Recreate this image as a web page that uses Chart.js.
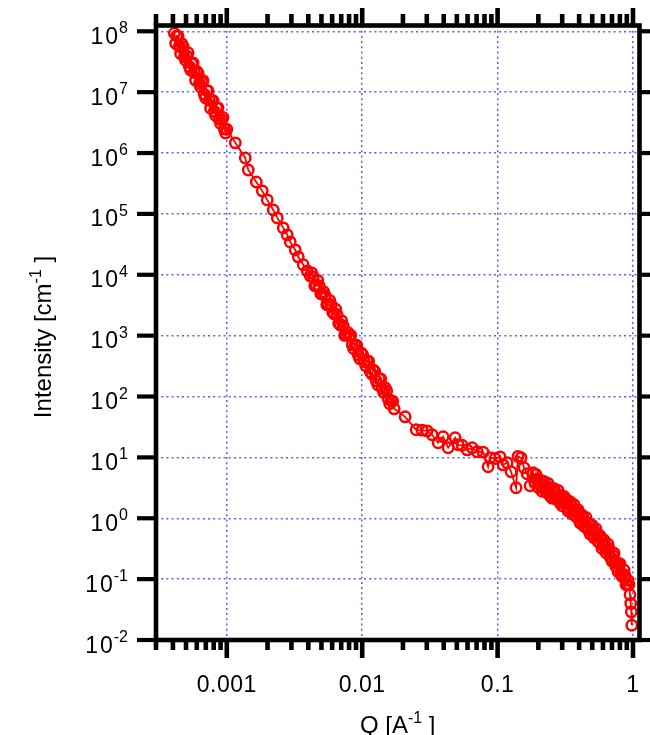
<!DOCTYPE html>
<html>
<head>
<meta charset="utf-8">
<script src="https://cdn.jsdelivr.net/npm/chart.js@4.4.1/dist/chart.umd.min.js"></script>
<style>
  html, body { margin: 0; padding: 0; background: #fff; }
</style>
</head>
<body>
<canvas id="chart" width="650" height="735"></canvas>
<script>
// Data
const qValues = [
  0.000410, 0.000419, 0.000428, 0.000437, 0.000446, 0.000456, 0.000466, 0.000476, 0.000486, 0.000496,
  0.000507, 0.000518, 0.000529, 0.000540, 0.000552, 0.000564, 0.000576, 0.000588, 0.000601, 0.000614,
  0.000627, 0.000640, 0.000654, 0.000668, 0.000682, 0.000697, 0.000712, 0.000727, 0.000743, 0.000759,
  0.000775, 0.000792, 0.000809, 0.000826, 0.000844, 0.000862, 0.000880, 0.000899, 0.000919, 0.000938,
  0.000958, 0.000979, 0.001000,
  0.001156, 0.001369, 0.001441, 0.001651, 0.001828, 0.001990, 0.002204, 0.002359, 0.002612, 0.002795,
  0.002941, 0.003202, 0.003371, 0.003670, 0.003928,
  0.004132, 0.004239, 0.004349, 0.004461, 0.004576, 0.004694, 0.004815, 0.004940, 0.005068, 0.005199,
  0.005333, 0.005471, 0.005612, 0.005757, 0.005905, 0.006058, 0.006214, 0.006374, 0.006539, 0.006707,
  0.006880, 0.007058, 0.007240, 0.007427, 0.007619, 0.007815, 0.008017, 0.008224, 0.008436, 0.008654,
  0.008877, 0.009107, 0.009343, 0.009584, 0.009831, 0.01009, 0.01035, 0.01062, 0.01089, 0.01117,
  0.01146, 0.01176, 0.01206, 0.01237, 0.01269, 0.01302, 0.01335, 0.01370, 0.01405, 0.01441,
  0.01478, 0.01517, 0.01556, 0.01596, 0.01637, 0.01679, 0.01723,
  0.02076, 0.02503, 0.02772, 0.03018, 0.03286, 0.03638, 0.03962, 0.04313, 0.04857, 0.05111,
  0.05470, 0.05956, 0.06484, 0.07060, 0.07816, 0.08510, 0.08803, 0.09583, 0.1043, 0.1098,
  0.1175, 0.1258, 0.1369, 0.1417, 0.1491, 0.1569, 0.1651, 0.1738, 0.1828,
  0.1891, 0.1923, 0.1957, 0.1990, 0.2024, 0.2059, 0.2094, 0.2130, 0.2167, 0.2204,
  0.2242, 0.2280, 0.2319, 0.2359, 0.2399, 0.2440, 0.2482, 0.2525, 0.2568, 0.2612,
  0.2657, 0.2702, 0.2749, 0.2796, 0.2844, 0.2893, 0.2942, 0.2992, 0.3044, 0.3096,
  0.3149, 0.3203, 0.3258, 0.3314, 0.3371, 0.3429, 0.3487, 0.3547, 0.3608, 0.3670,
  0.3733, 0.3797, 0.3862, 0.3928, 0.3995, 0.4063, 0.4133, 0.4204, 0.4276, 0.4349,
  0.4424, 0.4500, 0.4577, 0.4655, 0.4735, 0.4816, 0.4899, 0.4983, 0.5068, 0.5155,
  0.5243, 0.5333, 0.5425, 0.5518, 0.5612, 0.5708, 0.5806, 0.5906, 0.6007, 0.6110,
  0.6215, 0.6321, 0.6430, 0.6540, 0.6652, 0.6766, 0.6882, 0.7000, 0.7120, 0.7242,
  0.7366, 0.7492, 0.7621, 0.7752, 0.7884, 0.8019, 0.8157, 0.8297, 0.8439, 0.8584,
  0.8731, 0.8881, 0.9033, 0.9188, 0.9345,
  0.9505, 0.9620, 0.9720, 0.9800
];
const intensity = [
  9.3e7, 6.34e7, 8.41e7, 8.27e7, 5.64e7, 4.29e7, 6.25e7, 5.60e7, 3.81e7, 3.34e7,
  3.95e7, 4.45e7, 2.64e7, 2.31e7, 2.93e7, 3.01e7, 2.10e7, 1.57e7, 2.18e7, 2.04e7,
  1.39e7, 1.22e7, 1.44e7, 1.55e7, 9.20e6, 8.05e6, 1.07e7, 1.05e7, 7.31e6, 5.45e6,
  7.40e6, 7.27e6, 4.84e6, 4.14e6, 5.50e6, 5.52e6, 3.59e6, 3.07e6, 3.56e6, 3.83e6,
  2.49e6, 2.13e6, 2.46e6,
  1.47e6, 8.32e5, 5.27e5, 3.35e5, 2.39e5, 1.70e5, 1.16e5, 8.59e4, 5.89e4, 4.52e4,
  3.47e4, 2.56e4, 1.97e4, 1.46e4, 1.16e4,
  9590, 10760, 9250, 6590, 6820, 8100, 6580, 4870, 4850, 5250,
  4510, 3220, 3330, 3800, 3210, 2420, 2280, 2710, 2200, 1600,
  1500, 1750, 1450, 1010, 1030, 1130, 993, 1010, 706, 609,
  700, 694, 484, 420, 522, 485, 372, 320, 380, 379,
  255, 236, 274, 259, 181, 156, 195, 195, 134, 117,
  139, 124, 91.6, 76.1, 84.9, 83.5, 62.8,
  46.4, 28.4, 28.0, 27.3, 23.5, 17.4, 21.8, 14.4, 21.0, 16.1,
  15.8, 13.3, 14.4, 12.4, 12.2, 7.01, 9.84, 9.6, 10.2, 7.55,
  8.15, 5.80, 3.17, 10.4, 9.84, 6.75, 5.38, 3.42, 5.58,
  3.83, 5.22, 4.35, 3.23, 3.66, 4.26, 4.02, 2.78, 3.16, 4.01,
  3.35, 2.70, 2.73, 3.74, 3.25, 2.33, 2.75, 2.14, 2.42, 3.07,
  2.67, 2.06, 2.10, 2.87, 2.31, 1.79, 2.35, 1.61, 1.82, 2.28,
  1.76, 2.06, 1.85, 1.32, 1.43, 1.87, 1.67, 1.18, 1.33, 1.67,
  1.31, 1.06, 1.10, 1.38, 1.23, 0.841, 0.906, 1.13, 1.01, 0.740,
  0.860, 1.03, 0.733, 0.651, 0.815, 0.554, 0.642, 0.771, 0.544, 0.481,
  0.600, 0.668, 0.528, 0.417, 0.414, 0.516, 0.473, 0.320, 0.355, 0.440,
  0.360, 0.272, 0.303, 0.375, 0.319, 0.232, 0.228, 0.198, 0.244, 0.267,
  0.186, 0.162, 0.185, 0.133, 0.176, 0.179, 0.124, 0.111, 0.121, 0.141,
  0.114, 0.0807, 0.0831, 0.0955, 0.0818,
  0.0554, 0.0400, 0.0290, 0.0175
];

// Axes
const xMajorTicks = [0.001, 0.01, 0.1, 1];
const xTickLabels = ["0.001", "0.01", "0.1", "1"];
const xMinorTicks = [
  0.0003, 0.0004, 0.0005, 0.0006, 0.0007, 0.0008, 0.0009,
  0.002, 0.003, 0.004, 0.005, 0.006, 0.007, 0.008, 0.009,
  0.02, 0.03, 0.04, 0.05, 0.06, 0.07, 0.08, 0.09,
  0.2, 0.3, 0.4, 0.5, 0.6, 0.7, 0.8, 0.9
];
const yTicks = [1e-2, 1e-1, 1e0, 1e1, 1e2, 1e3, 1e4, 1e5, 1e6, 1e7, 1e8];
const yTickExponents = ["-2", "-1", "0", "1", "2", "3", "4", "5", "6", "7", "8"];
const xTitle = ["Q [A", "-1", " ]"];
const yTitle = ["Intensity [cm", "-1", " ]"];

const gridColor = "#5a5aff";
const font = "'Liberation Sans', Arial, Helvetica, sans-serif";

// draws frame, tick marks, labels and titles from the scales
const igorAxes = {
    id: "igorAxes",
    afterDraw(chart) {
        const {ctx, chartArea: a, scales} = chart;
        const x = scales.x, y = scales.y;
        ctx.save();
        ctx.strokeStyle = "#000";
        ctx.fillStyle = "#000";
        ctx.lineWidth = 4.6;
        ctx.lineCap = "butt";

        const line = (x0, y0, x1, y1) => {
            ctx.beginPath();
            ctx.moveTo(x0, y0);
            ctx.lineTo(x1, y1);
            ctx.stroke();
        };

        // frame
        ctx.strokeRect(a.left, a.top, a.right - a.left, a.bottom - a.top);

        // x ticks, bottom and top
        xMinorTicks.forEach(v => {
            let px = x.getPixelForValue(v);
            line(px, a.bottom, px, a.bottom + 10);
            line(px, a.top, px, a.top - 11.5);
        });
        xMajorTicks.forEach(v => {
            let px = x.getPixelForValue(v);
            line(px, a.bottom, px, a.bottom + 18);
            line(px, a.top, px, a.top - 17.5);
        });

        // y ticks, left and right
        ctx.lineWidth = 4.2;
        yTicks.forEach(v => {
            let py = y.getPixelForValue(v);
            line(a.left, py, a.left - 19, py);
            line(a.right, py, a.right + 10.5, py);
        });

        // x tick labels
        ctx.font = `23px ${font}`;
        ctx.textAlign = "center";
        ctx.textBaseline = "alphabetic";
        if ("letterSpacing" in ctx) ctx.letterSpacing = "0.5px";
        xMajorTicks.forEach((v, i) => {
            ctx.fillText(xTickLabels[i], x.getPixelForValue(v), 692);
        });

        // y tick labels: 10 with superscript exponent
        ctx.textAlign = "right";
        const labelRight = 128;
        yTicks.forEach((v, i) => {
            let py = y.getPixelForValue(v);
            ctx.font = `16px ${font}`;
            if ("letterSpacing" in ctx) ctx.letterSpacing = "0px";
            let supW = ctx.measureText(yTickExponents[i]).width;
            ctx.fillText(yTickExponents[i], labelRight, py + 2);
            ctx.font = `23px ${font}`;
            if ("letterSpacing" in ctx) ctx.letterSpacing = "2px";
            ctx.fillText("10", labelRight - supW + 1, py + 12.5);
        });
        if ("letterSpacing" in ctx) ctx.letterSpacing = "0px";

        // titles with superscript
        const drawTitle = (parts, cx, base) => {
            ctx.font = `24px ${font}`;
            let w0 = ctx.measureText(parts[0]).width;
            let w2 = ctx.measureText(parts[2]).width;
            ctx.font = `16px ${font}`;
            let w1 = ctx.measureText(parts[1]).width;
            let start = cx - (w0 + w1 + w2) / 2;
            ctx.textAlign = "left";
            ctx.font = `24px ${font}`;
            ctx.fillText(parts[0], start, base);
            ctx.fillText(parts[2], start + w0 + w1, base);
            ctx.font = `16px ${font}`;
            ctx.fillText(parts[1], start + w0, base - 10);
        };
        drawTitle(xTitle, (a.left + a.right) / 2, 733);

        ctx.save();
        ctx.translate(51, 337);
        ctx.rotate(-Math.PI / 2);
        drawTitle(yTitle, 0, 0);
        ctx.restore();

        ctx.restore();
    }
};

const points = qValues.map((q, i) => ({x: q, y: intensity[i]}));

new Chart(document.getElementById("chart"), {
    type: "line",
    data: {
        datasets: [{
            data: points,
            borderColor: "#ff0000",
            borderWidth: 1.8,
            pointStyle: "circle",
            pointRadius: 5.2,
            pointBorderWidth: 2.5,
            pointBorderColor: "#ff0000",
            pointBackgroundColor: "rgba(0,0,0,0)",
            tension: 0,
            fill: false
        }]
    },
    options: {
        responsive: false,
        animation: false,
        devicePixelRatio: 1,
        layout: {padding: {left: 156, top: 25.5, right: 10.5, bottom: 95}},
        plugins: {legend: {display: false}, tooltip: {enabled: false}},
        scales: {
            x: {
                type: "logarithmic",
                min: 0.0003,
                max: 1.117,
                afterBuildTicks: s => { s.ticks = xMajorTicks.map(v => ({value: v})); },
                ticks: {display: false},
                grid: {drawTicks: false, color: gridColor, lineWidth: 1.5},
                border: {display: false, dash: [2, 3.2]}
            },
            y: {
                type: "logarithmic",
                min: 0.01,
                max: 1.245e8,
                afterBuildTicks: s => { s.ticks = yTicks.map(v => ({value: v})); },
                ticks: {display: false},
                grid: {drawTicks: false, color: gridColor, lineWidth: 1.5},
                border: {display: false, dash: [2, 3.2]}
            }
        }
    },
    plugins: [igorAxes]
});
</script>
</body>
</html>
